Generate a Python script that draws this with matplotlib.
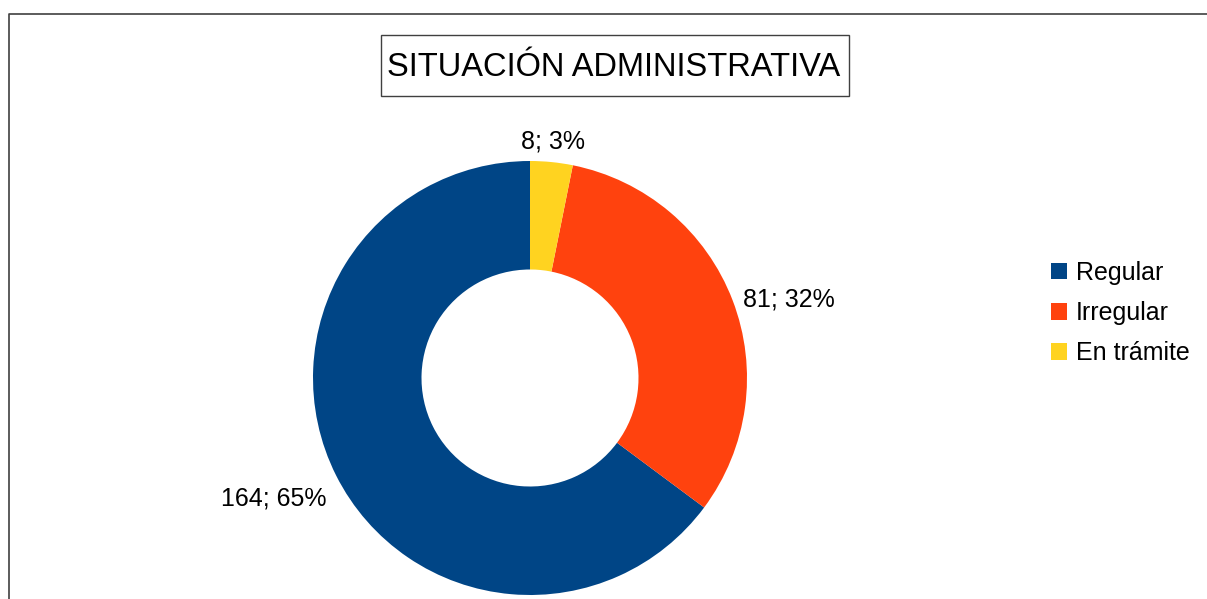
import matplotlib.pyplot as plt
import numpy as np
from matplotlib.patches import Rectangle
from matplotlib.lines import Line2D

# data
labels = ['Regular', 'Irregular', 'En trámite']
counts = [164, 81, 8]
percents = [65, 32, 3]
colors = ['#004586', '#FF420E', '#FFD320']
title = 'SITUACIÓN ADMINISTRATIVA'

plt.rcParams['font.family'] = ['Liberation Sans', 'DejaVu Sans']

W, H = 1207, 599
fig = plt.figure(figsize=(W / 100, H / 100), dpi=100)

# outer frame (only top and left are visible in the crop)
fig.add_artist(Line2D([9 / W, 9 / W, 1.0], [0, 1 - 14 / H, 1 - 14 / H],
                      color='#404040', lw=1.2, transform=fig.transFigure))

# donut axes: centre (530, 378), radius 217 px
cx, cy, R = 530, 378, 217
ax = fig.add_axes([(cx - R) / W, (H - cy - R) / H, 2 * R / W, 2 * R / H])
wedges, _ = ax.pie(counts, colors=colors, startangle=90, counterclock=True,
                   radius=1.0, wedgeprops=dict(width=0.5, linewidth=0))
ax.set_xlim(-1, 1)
ax.set_ylim(-1, 1)
ax.axis('off')

# data labels
aligns = [('right', 'top', -6), ('left', 'center', -3), ('center', 'bottom', -2)]
for w, c, p, (ha, va, dy) in zip(wedges, counts, percents, aligns):
    ang = np.deg2rad((w.theta1 + w.theta2) / 2)
    r = 1.05
    ax.annotate(f'{c}; {p}%', (r * np.cos(ang), r * np.sin(ang)),
                xytext=(0, dy), textcoords='offset pixels',
                ha=ha, va=va, fontsize=18, annotation_clip=False)

# title with box
fig.add_artist(Rectangle((381 / W, 1 - 96 / H), 468 / W, 61 / H, fill=False,
                         edgecolor='#404040', lw=1.0, transform=fig.transFigure))
fig.text(614 / W, 1 - 67 / H, title, ha='center', va='center', fontsize=23.5)

# legend
fig.legend(wedges, labels, loc='center left', bbox_to_anchor=(1038 / W, 1 - 313 / H),
           frameon=False, fontsize=18, handlelength=0.65, handleheight=0.65,
           handletextpad=0.35, labelspacing=0.65, borderpad=0)

fig.savefig('out.png', dpi=100, facecolor='white')
